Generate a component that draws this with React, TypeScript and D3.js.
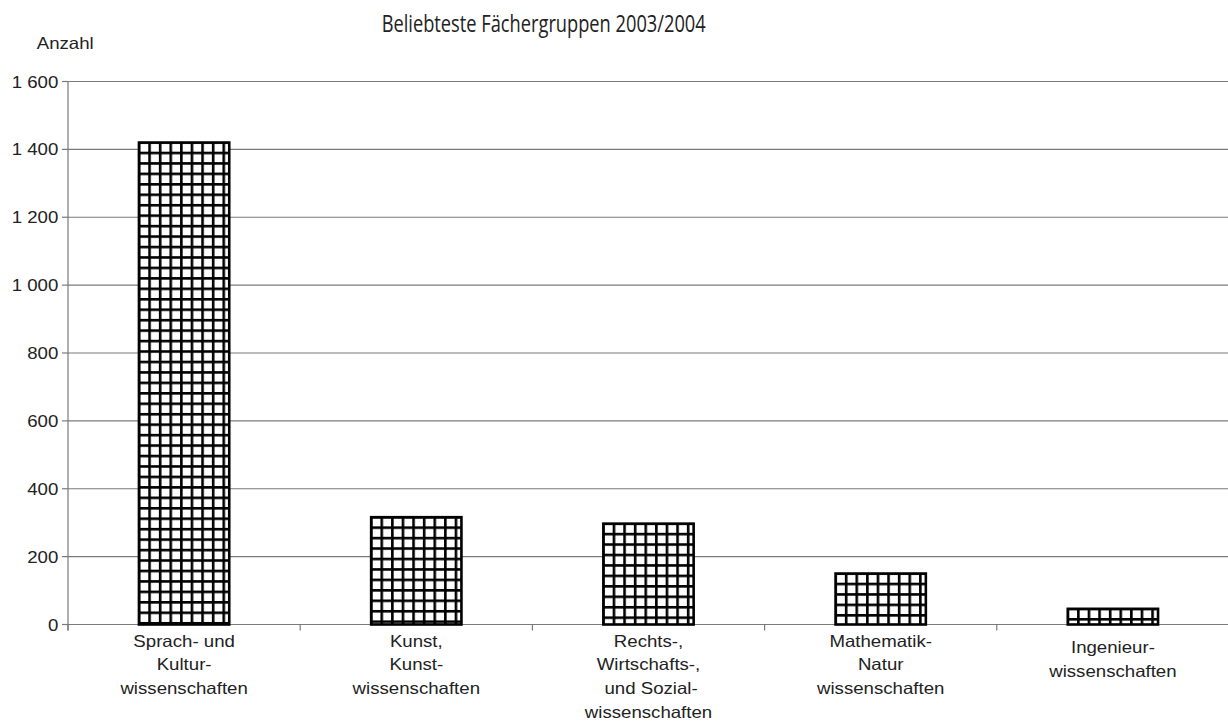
import React from "react";
import * as d3 from "d3";

const categories = [
  "Sprach- und Kulturwissenschaften",
  "Kunst, Kunstwissenschaften",
  "Rechts-, Wirtschafts-, und Sozialwissenschaften",
  "Mathematik-Naturwissenschaften",
  "Ingenieurwissenschaften",
];
const categoryLabelLines = [
  ["Sprach- und", "Kultur-", "wissenschaften"],
  ["Kunst,", "Kunst-", "wissenschaften"],
  ["Rechts-,", "Wirtschafts-,", " und Sozial-", "wissenschaften"],
  ["Mathematik-", "Natur", "wissenschaften"],
  ["Ingenieur-", "wissenschaften"],
];
const values = [1424, 320, 301, 154, 50];
const yTicks = [0, 200, 400, 600, 800, 1000, 1200, 1400, 1600];
const title = "Beliebteste Fächergruppen 2003/2004";
const yAxisTitle = "Anzahl";

const W = 1228;
const H = 724;
const left = 68;
const right = 1229;
const top = 81.5;
const bottom = 624.5;
const SX = 1.13;
const FONT = "'Liberation Sans', Arial, sans-serif";
const FS = 16.5;
const GRID = "#7a7a7a";

const fmtLocale = d3.formatLocale({
  decimal: ",",
  thousands: " ",
  grouping: [3],
  currency: ["", ""],
});
const fmt = fmtLocale.format(",");

export default function App() {
  const x = d3
    .scaleBand<string>()
    .domain(categories)
    .range([left, right])
    .paddingInner(0.6)
    .paddingOuter(0.3);
  const y = d3.scaleLinear().domain([0, 1600]).range([bottom, top]);
  const step = (right - left) / categories.length;
  const cellW = 10.6;
  const cellH = 10.45;
  const lw = 2.6;

  return (
    <svg
      width={W}
      height={H}
      style={{ position: "absolute", left: 0, top: 0, display: "block", background: "#fff" }}
    >
      <defs>
        {categories.map((c, i) => {
          const bx = x(c)!;
          const by = y(values[i]);
          return (
            <pattern
              key={c}
              id={`grid${i}`}
              patternUnits="userSpaceOnUse"
              x={bx}
              y={by}
              width={cellW}
              height={cellH}
            >
              <rect x={0} y={0} width={cellW} height={cellH} fill="#fff" />
              <rect x={0} y={0} width={lw} height={cellH} fill="#000" />
              <rect x={0} y={0} width={cellW} height={lw} fill="#000" />
            </pattern>
          );
        })}
      </defs>

      {/* title */}
      <text
        x={381.7}
        y={32.3}
        fontFamily="'Open Sans', 'Noto Sans', sans-serif"
        fontSize={24.5}
        fill="#222"
        textLength={324}
        lengthAdjust="spacingAndGlyphs"
      >
        {title}
      </text>

      {/* y axis title */}
      <text
        transform={`translate(36.7,48.5) scale(${SX},1)`}
        fontFamily={FONT}
        fontSize={FS}
        fill="#222"
      >
        {yAxisTitle}
      </text>

      {/* gridlines + y ticks */}
      {yTicks.map((t) => (
        <g key={t}>
          <line x1={left} x2={W} y1={y(t)} y2={y(t)} stroke={GRID} strokeWidth={1.2} />
          <line x1={left - 6} x2={left} y1={y(t)} y2={y(t)} stroke={GRID} strokeWidth={1.2} />
          <text
            transform={`translate(58.3,${y(t) + 6}) scale(${SX},1)`}
            textAnchor="end"
            fontFamily={FONT}
            fontSize={FS}
            fill="#222"
          >
            {fmt(t)}
          </text>
        </g>
      ))}

      {/* y axis line */}
      <line x1={left} x2={left} y1={top} y2={bottom + 6} stroke={GRID} strokeWidth={1.2} />

      {/* x category ticks */}
      {d3.range(categories.length + 1).map((i) => (
        <line
          key={i}
          x1={left + i * step}
          x2={left + i * step}
          y1={bottom}
          y2={bottom + 6}
          stroke={GRID}
          strokeWidth={1.2}
        />
      ))}

      {/* bars */}
      {categories.map((c, i) => {
        const bx = x(c)!;
        const by = y(values[i]);
        const bw = x.bandwidth();
        const bh = y(0) - by;
        return (
          <rect
            key={c}
            x={bx + lw / 2}
            y={by + lw / 2}
            width={bw - lw}
            height={bh - lw / 2}
            fill={`url(#grid${i})`}
            stroke="#000"
            strokeWidth={lw}
          />
        );
      })}

      {/* category labels */}
      {categories.map((c, i) => {
        const cx = x(c)! + x.bandwidth() / 2;
        const lines = categoryLabelLines[i];
        const y0 = lines.length === 2 ? 653 : 646.5;
        return (
          <g key={c}>
            {lines.map((ln, j) => (
              <text
                key={j}
                transform={`translate(${cx},${y0 + j * 23.8}) scale(${SX},1)`}
                textAnchor="middle"
                fontFamily={FONT}
                fontSize={FS}
                fill="#222"
                style={{ whiteSpace: "pre" }}
              >
                {ln}
              </text>
            ))}
          </g>
        );
      })}
    </svg>
  );
}
